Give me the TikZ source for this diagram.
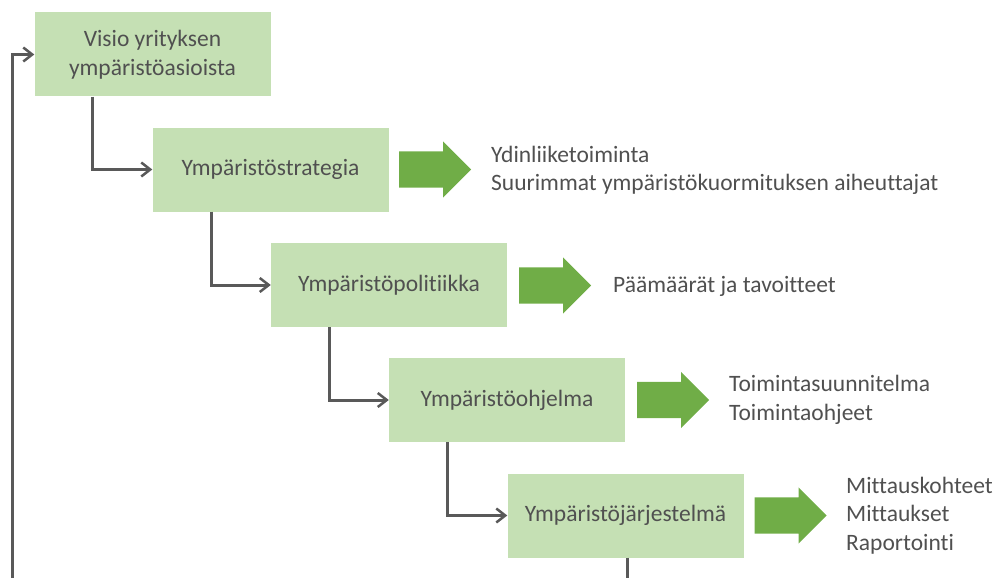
\documentclass[tikz,border=0pt]{standalone}
\usepackage{fontspec}
\setmainfont[Ligatures=CommonOff]{Carlito}
\usepackage{tikz}
\usetikzlibrary{positioning, arrows.meta, shapes.arrows}
\definecolor{boxgreen}{RGB}{197, 224, 180}
\definecolor{arrowgreen}{RGB}{112, 173, 71}
\definecolor{linegray}{RGB}{89, 89, 89}
\definecolor{textgray}{RGB}{80, 80, 80}

\begin{document}
\begin{tikzpicture}[x=1pt, y=-1pt,
    stagebox/.style={fill=boxgreen, text=textgray, minimum width=236pt, minimum height=84pt,
        align=center, font=\fontsize{23.5}{29}\selectfont},
    conn/.style={draw=linegray, line width=3pt, -{Straight Barb[length=9pt, width=14pt, line width=2.5pt]}},
    bigarrow/.style={single arrow, fill=arrowgreen, inner xsep=0pt, inner ysep=18pt, minimum height=72pt,
        single arrow head extend=10pt, single arrow head indent=0pt, anchor=tail},
    notes/.style={right, inner sep=0pt, text=textgray, align=left, font=\fontsize{23.5}{28.5}\selectfont}]
    \useasboundingbox (0,0) rectangle (997,578);

    % Portaat
    \node[stagebox] (b1) at (152.5, 54.5) {Visio yrityksen\\ympäristöasioista};
    \node[stagebox] (b2) at (270.5, 169.5) {Ympäristöstrategia};
    \node[stagebox] (b3) at (389, 285) {Ympäristöpolitiikka};
    \node[stagebox] (b4) at (507, 400) {Ympäristöohjelma};
    \node[stagebox] (b5) at (625.5, 515.5) {Ympäristöjärjestelmä};

    % Yhdysviivat
    \draw[conn] ([xshift=-60.5pt]b1.south) |- (b2.west);
    \draw[conn] ([xshift=-59.5pt]b2.south) |- (b3.west);
    \draw[conn] ([xshift=-60pt]b3.south) |- (b4.west);
    \draw[conn] ([xshift=-60pt]b4.south) |- (b5.west);

    % Palaute takaisin visioon
    \coordinate (loopL) at (12, 578);
    \draw[draw=linegray, line width=3pt] ([xshift=2pt]b5.south) -- ([xshift=2pt]b5.south |- loopL);
    \draw[conn] (loopL) |- (b1.west);

    % Nuolet ja tarkennukset
    \node[bigarrow] (a2) at (399, 169.5) {};
    \node[bigarrow] (a3) at (519, 285.5) {};
    \node[bigarrow] (a4) at (637, 400) {};
    \node[bigarrow] (a5) at (754.5, 515.5) {};

    \node[notes] (t2) at (491, 170.5) {Ydinliiketoiminta\\Suurimmat ympäristökuormituksen aiheuttajat};
    \node[notes] (t3) at (613, 286) {Päämäärät ja tavoitteet};
    \node[notes] (t4) at (729, 400) {Toimintasuunnitelma\\Toimintaohjeet};
    \node[notes] (t5) at (846, 515.5) {Mittauskohteet\\Mittaukset\\Raportointi};
\end{tikzpicture}
\end{document}
